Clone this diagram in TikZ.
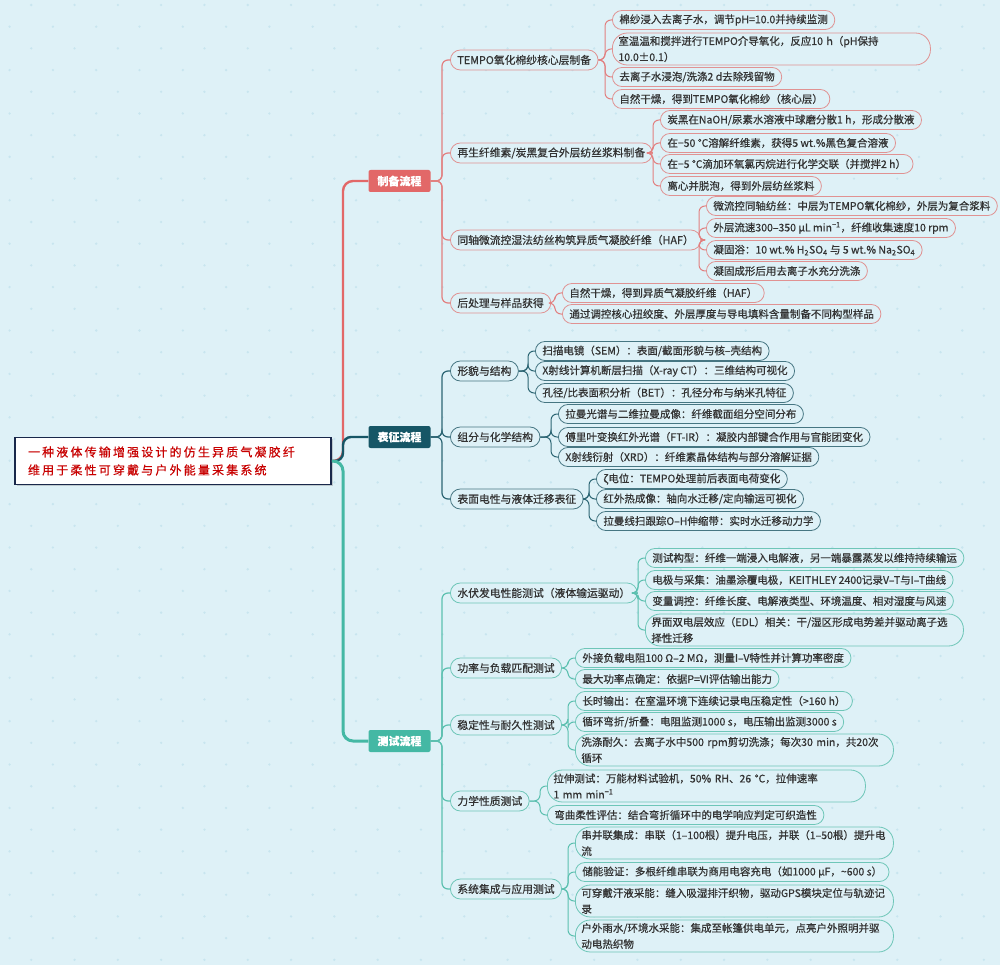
\documentclass[tikz,border=0pt]{standalone}
\usepackage{fontspec}
\setmainfont{Noto Sans CJK SC}[FakeBold=0.6]
\newfontfamily\titlefont[LetterSpace=18,FakeBold=0.4]{Noto Sans CJK SC}
\usepackage{xcolor}
\definecolor{mm-bg}{RGB}{222,241,247}
\definecolor{mm-dot}{RGB}{200,229,239}
\definecolor{mm-text}{RGB}{51,51,51}
\definecolor{mm-title}{RGB}{200,0,0}
\definecolor{mm-navy}{RGB}{25,40,75}
\definecolor{mm-red}{RGB}{226,104,104}
\definecolor{mm-red-line}{RGB}{226,128,128}
\definecolor{mm-red-edge}{RGB}{224,146,146}
\definecolor{mm-dark}{RGB}{22,86,102}
\definecolor{mm-dark-line}{RGB}{45,102,116}
\definecolor{mm-dark-edge}{RGB}{70,118,130}
\definecolor{mm-teal}{RGB}{68,184,164}
\definecolor{mm-teal-line}{RGB}{92,192,176}
\definecolor{mm-teal-edge}{RGB}{110,198,184}
\usetikzlibrary{shadows}

\begin{document}
\begin{tikzpicture}[
    x=1pt, y=-1pt,
    root/.style={rectangle, draw=mm-navy, line width=1.6pt, fill=white, text width=290pt, align=left, inner xsep=13pt, minimum height=47pt, text=mm-title, font=\titlefont\fontsize{12}{18}\selectfont, drop shadow={shadow xshift=1.5pt, shadow yshift=-1.5pt, opacity=0.35}},
    main/.style={rectangle, rounded corners=2pt, minimum width=62pt, minimum height=22pt, text=white, font=\fontsize{11}{13}\selectfont\bfseries},
    topic/.style={rectangle, rounded corners=10pt, draw, fill=mm-bg, line width=0.8pt, minimum height=20pt, inner xsep=7pt, inner ysep=2pt, anchor=west, text=mm-text, font=\fontsize{10.8}{16}\selectfont},
    leaf/.style={rectangle, rounded corners=9.5pt, draw, fill=mm-bg, line width=0.8pt, minimum height=19pt, inner xsep=7pt, inner ysep=2pt, anchor=west, align=left, text=mm-text, font=\fontsize{10.5}{16}\selectfont},
    tall/.style={rounded corners=15pt, minimum height=32pt, inner xsep=6pt, text width=306pt},
    lnA/.style={draw=mm-red-line, line width=1pt, rounded corners=6pt},
    lnB/.style={draw=mm-dark-line, line width=1pt, rounded corners=6pt},
    lnC/.style={draw=mm-teal-line, line width=1pt, rounded corners=6pt}
]

% Fundo
\useasboundingbox (0,0) rectangle (1000,965);
\fill[mm-bg] (0,0) rectangle (1000,965);
\begin{scope}
  \clip (0,0) rectangle (1000,965);
  \foreach \r in {0,...,44}
    \foreach \k in {0,...,23}
      \fill[mm-dot] ({9.6+43.3*\k+21.65*(1-mod(\r,2))}, {5+21.7*\r}) circle (1.3pt);
\end{scope}

% Raiz
\node[root] (root) at (173,461) {一种液体传输增强设计的仿生异质气凝胶纤\\维用于柔性可穿戴与户外能量采集系统};
\coordinate (hub) at (343,461);

% Ramos principais
\node[main, fill=mm-red] (prep) at (399.5,181) {制备流程};
\node[main, fill=mm-dark] (char) at (399.5,437) {表征流程};
\node[main, fill=mm-teal] (test) at (399.5,741) {测试流程};

\draw[mm-red, line width=2.4pt, rounded corners=10pt] (root.east) -- (hub) |- (prep.west);
\draw[mm-dark, line width=2.4pt, rounded corners=8pt] (root.east) -- (hub) |- (char.west);
\draw[mm-teal, line width=3pt, rounded corners=10pt] (root.east) -- (hub) |- (test.west);

% Preparo
\node[topic, draw=mm-red-edge] (pa) at (450,60) {TEMPO氧化棉纱核心层制备};
\node[topic, draw=mm-red-edge] (pb) at (450,153) {再生纤维素/炭黑复合外层纺丝浆料制备};
\node[topic, draw=mm-red-edge] (pc) at (450,240) {同轴微流控湿法纺丝构筑异质气凝胶纤维（HAF）};
\node[topic, draw=mm-red-edge] (pd) at (450,303) {后处理与样品获得};

\node[leaf, draw=mm-red-edge] (pa1) at (612,20) {棉纱浸入去离子水，调节pH=10.0并持续监测};
\node[leaf, tall, draw=mm-red-edge] (pa2) at (612,49) {室温温和搅拌进行TEMPO介导氧化，反应10 h（pH保持\\10.0±0.1）};
\node[leaf, draw=mm-red-edge] (pa3) at (612,77) {去离子水浸泡/洗涤2 d去除残留物};
\node[leaf, draw=mm-red-edge] (pa4) at (612,99) {自然干燥，得到TEMPO氧化棉纱（核心层）};

\node[leaf, draw=mm-red-edge] (pb1) at (660,120) {炭黑在NaOH/尿素水溶液中球磨分散1 h，形成分散液};
\node[leaf, draw=mm-red-edge] (pb2) at (660,143) {在−50 °C溶解纤维素，获得5 wt.\%黑色复合溶液};
\node[leaf, draw=mm-red-edge] (pb3) at (660,164) {在−5 °C滴加环氧氯丙烷进行化学交联（并搅拌2 h）};
\node[leaf, draw=mm-red-edge] (pb4) at (660,186) {离心并脱泡，得到外层纺丝浆料};

\node[leaf, draw=mm-red-edge] (pc1) at (706,206) {微流控同轴纺丝：中层为TEMPO氧化棉纱，外层为复合浆料};
\node[leaf, draw=mm-red-edge] (pc2) at (706,228) {外层流速300–350 μL min\textsuperscript{−1}，纤维收集速度10 rpm};
\node[leaf, draw=mm-red-edge] (pc3) at (706,250) {凝固浴：10 wt.\% H\textsubscript{2}SO\textsubscript{4} 与 5 wt.\% Na\textsubscript{2}SO\textsubscript{4}};
\node[leaf, draw=mm-red-edge] (pc4) at (706,271) {凝固成形后用去离子水充分洗涤};

\node[leaf, draw=mm-red-edge] (pd1) at (562,293) {自然干燥，得到异质气凝胶纤维（HAF）};
\node[leaf, draw=mm-red-edge] (pd2) at (562,314) {通过调控核心扭绞度、外层厚度与导电填料含量制备不同构型样品};

\foreach \n in {pa,pb,pc,pd}
  \draw[lnA, line width=1.2pt] (prep.east) -| ([xshift=-8pt]\n.west) -- (\n.west);
\foreach \n in {pa1,pa2,pa3,pa4}
  \draw[lnA] (pa.east) -| ([xshift=-7pt]\n.west) -- (\n.west);
\foreach \n in {pb1,pb2,pb3,pb4}
  \draw[lnA] (pb.east) -| ([xshift=-7pt]\n.west) -- (\n.west);
\foreach \n in {pc1,pc2,pc3,pc4}
  \draw[lnA] (pc.east) -| ([xshift=-7pt]\n.west) -- (\n.west);
\foreach \n in {pd1,pd2}
  \draw[lnA] (pd.east) -| ([xshift=-7pt]\n.west) -- (\n.west);

% Caracterizacao
\node[topic, draw=mm-dark-edge] (ca) at (450,371) {形貌与结构};
\node[topic, draw=mm-dark-edge] (cb) at (450,437) {组分与化学结构};
\node[topic, draw=mm-dark-edge] (cc) at (450,499) {表面电性与液体迁移表征};

\node[leaf, draw=mm-dark-edge] (ca1) at (535,351) {扫描电镜（SEM）：表面/截面形貌与核–壳结构};
\node[leaf, draw=mm-dark-edge] (ca2) at (535,371) {X射线计算机断层扫描（X-ray CT）：三维结构可视化};
\node[leaf, draw=mm-dark-edge] (ca3) at (535,393) {孔径/比表面积分析（BET）：孔径分布与纳米孔特征};

\node[leaf, draw=mm-dark-edge] (cb1) at (558,414) {拉曼光谱与二维拉曼成像：纤维截面组分空间分布};
\node[leaf, draw=mm-dark-edge] (cb2) at (558,437) {傅里叶变换红外光谱（FT-IR）：凝胶内部键合作用与官能团变化};
\node[leaf, draw=mm-dark-edge] (cb3) at (558,457) {X射线衍射（XRD）：纤维素晶体结构与部分溶解证据};

\node[leaf, draw=mm-dark-edge] (cc1) at (596,479) {ζ电位：TEMPO处理前后表面电荷变化};
\node[leaf, draw=mm-dark-edge] (cc2) at (596,499) {红外热成像：轴向水迁移/定向输运可视化};
\node[leaf, draw=mm-dark-edge] (cc3) at (596,521) {拉曼线扫跟踪O–H伸缩带：实时水迁移动力学};

\foreach \n in {ca,cb,cc}
  \draw[lnB, line width=1.2pt] (char.east) -| ([xshift=-8pt]\n.west) -- (\n.west);
\foreach \n in {ca1,ca2,ca3}
  \draw[lnB] (ca.east) -| ([xshift=-7pt]\n.west) -- (\n.west);
\foreach \n in {cb1,cb2,cb3}
  \draw[lnB] (cb.east) -| ([xshift=-7pt]\n.west) -- (\n.west);
\foreach \n in {cc1,cc2,cc3}
  \draw[lnB] (cc.east) -| ([xshift=-7pt]\n.west) -- (\n.west);

% Testes
\node[topic, draw=mm-teal-edge] (ta) at (450,593) {水伏发电性能测试（液体输运驱动）};
\node[topic, draw=mm-teal-edge] (tb) at (450,668) {功率与负载匹配测试};
\node[topic, draw=mm-teal-edge] (tc) at (450,725) {稳定性与耐久性测试};
\node[topic, draw=mm-teal-edge] (td) at (450,801) {力学性质测试};
\node[topic, draw=mm-teal-edge] (te) at (450,889) {系统集成与应用测试};

\node[leaf, draw=mm-teal-edge] (ta1) at (645,558) {测试构型：纤维一端浸入电解液，另一端暴露蒸发以维持持续输运};
\node[leaf, draw=mm-teal-edge] (ta2) at (645,580) {电极与采集：油墨涂覆电极，KEITHLEY 2400记录V–T与I–T曲线};
\node[leaf, draw=mm-teal-edge] (ta3) at (645,601) {变量调控：纤维长度、电解液类型、环境温度、相对湿度与风速};
\node[leaf, tall, draw=mm-teal-edge] (ta4) at (645,630) {界面双电层效应（EDL）相关：干/湿区形成电势差并驱动离子选\\择性迁移};

\node[leaf, draw=mm-teal-edge] (tb1) at (575,658) {外接负载电阻100 Ω–2 MΩ，测量I–V特性并计算功率密度};
\node[leaf, draw=mm-teal-edge] (tb2) at (575,679) {最大功率点确定：依据P=VI评估输出能力};

\node[leaf, draw=mm-teal-edge] (tc1) at (575,701) {长时输出：在室温环境下连续记录电压稳定性（>160 h）};
\node[leaf, draw=mm-teal-edge] (tc2) at (575,722) {循环弯折/折叠：电阻监测1000 s，电压输出监测3000 s};
\node[leaf, tall, draw=mm-teal-edge] (tc3) at (575,750) {洗涤耐久：去离子水中500 rpm剪切洗涤；每次30 min，共20次\\循环};

\node[leaf, tall, draw=mm-teal-edge] (td1) at (547,786) {拉伸测试：万能材料试验机，50\% RH、26 °C，拉伸速率\\1 mm min\textsuperscript{−1}};
\node[leaf, draw=mm-teal-edge] (td2) at (547,815) {弯曲柔性评估：结合弯折循环中的电学响应判定可织造性};

\node[leaf, tall, draw=mm-teal-edge] (te1) at (575,843) {\mbox{串并联集成：串联（1–100根）提升电压，并联（1–50根）提升电}\\流};
\node[leaf, draw=mm-teal-edge] (te2) at (575,872) {储能验证：多根纤维串联为商用电容充电（如1000 μF，\textasciitilde600 s）};
\node[leaf, tall, draw=mm-teal-edge] (te3) at (575,901) {可穿戴汗液采能：缝入吸湿排汗织物，驱动GPS模块定位与轨迹记\\录};
\node[leaf, tall, draw=mm-teal-edge] (te4) at (575,936) {户外雨水/环境水采能：集成至帐篷供电单元，点亮户外照明并驱\\动电热织物};

\foreach \n in {ta,tb,tc,td,te}
  \draw[lnC, line width=1.2pt] (test.east) -| ([xshift=-8pt]\n.west) -- (\n.west);
\foreach \n in {ta1,ta2,ta3,ta4}
  \draw[lnC] (ta.east) -| ([xshift=-7pt]\n.west) -- (\n.west);
\foreach \n in {tb1,tb2}
  \draw[lnC] (tb.east) -| ([xshift=-7pt]\n.west) -- (\n.west);
\foreach \n in {tc1,tc2,tc3}
  \draw[lnC] (tc.east) -| ([xshift=-7pt]\n.west) -- (\n.west);
\foreach \n in {td1,td2}
  \draw[lnC] (td.east) -| ([xshift=-7pt]\n.west) -- (\n.west);
\foreach \n in {te1,te2,te3,te4}
  \draw[lnC] (te.east) -| ([xshift=-7pt]\n.west) -- (\n.west);

\end{tikzpicture}
\end{document}
